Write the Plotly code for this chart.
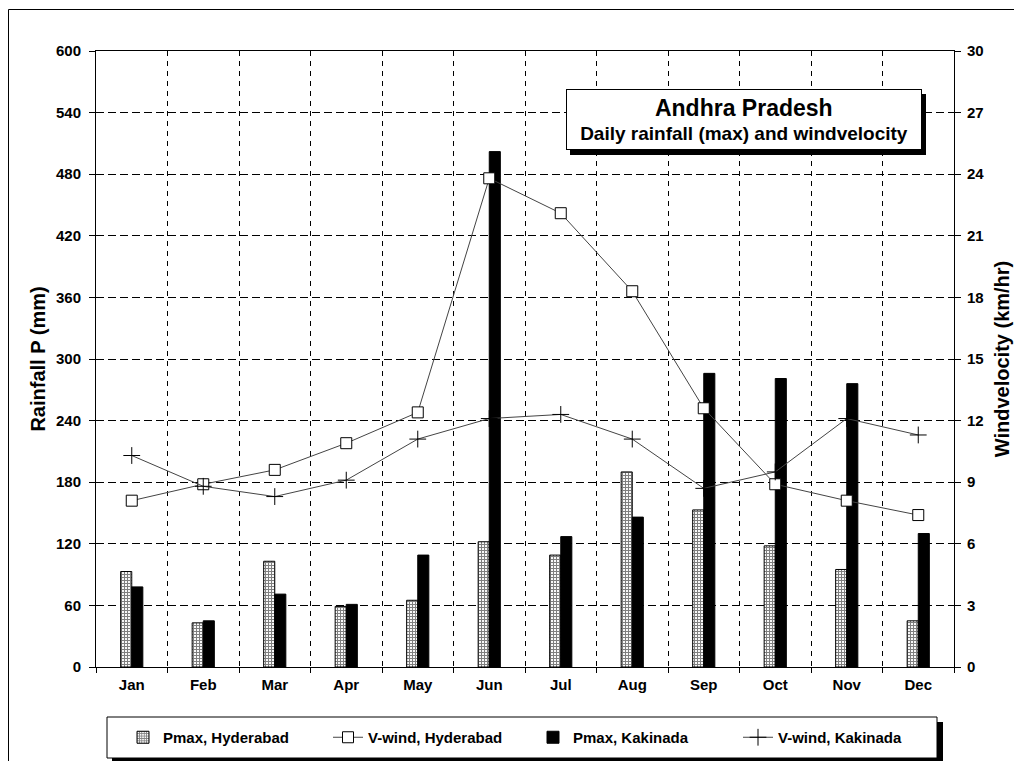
import plotly.graph_objects as go

MONTHS = ['Jan', 'Feb', 'Mar', 'Apr', 'May', 'Jun', 'Jul', 'Aug', 'Sep', 'Oct', 'Nov', 'Dec']
PMAX_HYDERABAD = [93, 43, 103, 59, 65, 122, 109, 190, 153, 118, 95, 45]
PMAX_KAKINADA = [78, 45, 71, 61, 109, 502, 127, 146, 286, 281, 276, 130]
WIND_HYDERABAD = [8.1, 8.9, 9.6, 10.9, 12.4, 23.8, 22.1, 18.3, 12.6, 8.9, 8.1, 7.4]
WIND_KAKINADA = [10.3, 8.8, 8.3, 9.1, 11.1, 12.1, 12.3, 11.1, 8.7, 9.5, 12.1, 11.3]

RAIN_TICKS = list(range(0, 601, 60))
WIND_TICKS = list(range(0, 31, 3))

FONT = 'Liberation Sans'

# page offset from the default body margin of the html page
OFF = 8
FIG_W, FIG_H = 1022 - OFF, 769 - 2 * OFF

# plot area in page pixels (used to place boxes drawn in paper coords)
L, R, T, B = 96, 954, 51, 667
W, H = R - L, B - T


def px(x):
    return (x - L) / W


def py(y):
    return (B - y) / H


fig = go.Figure()

fig.add_trace(go.Bar(
    x=MONTHS, y=PMAX_HYDERABAD, name='Pmax, Hyderabad',
    marker=dict(color='white', line=dict(color='black', width=1),
                pattern=dict(shape='+', fgcolor='black', bgcolor='white', size=3, solidity=0.6)),
))
fig.add_trace(go.Scatter(
    x=MONTHS, y=WIND_HYDERABAD, name='V-wind, Hyderabad', yaxis='y2',
    mode='lines+markers', line=dict(color='#444444', width=1),
    marker=dict(symbol='square', size=11, color='white', line=dict(color='black', width=1)),
))
fig.add_trace(go.Bar(
    x=MONTHS, y=PMAX_KAKINADA, name='Pmax, Kakinada',
    marker=dict(color='black', line=dict(color='black', width=1)),
))
fig.add_trace(go.Scatter(
    x=MONTHS, y=WIND_KAKINADA, name='V-wind, Kakinada', yaxis='y2',
    mode='lines+markers', line=dict(color='#444444', width=1),
    marker=dict(symbol='cross-thin', size=12, color='black', line=dict(color='black', width=1)),
))

tick_font = dict(family=FONT, size=15, color='black', weight='bold')
title_font = dict(family=FONT, size=20, color='black', weight='bold')

fig.update_layout(
    width=FIG_W, height=FIG_H,
    margin=dict(l=L - OFF, r=FIG_W - (R - OFF), t=T - OFF, b=FIG_H - (B - OFF)),
    paper_bgcolor='white', plot_bgcolor='white',
    barmode='group', bargap=0.69, bargroupgap=0,
    font=dict(family=FONT, color='black'),
    xaxis=dict(
        type='category', range=[-0.5, len(MONTHS) - 0.5], tickson='boundaries',
        ticks='outside', ticklen=5, tickcolor='black', tickfont=tick_font, ticklabelstandoff=4,
        showgrid=True, gridcolor='black', gridwidth=1, griddash='5px,5px',
        showline=True, linecolor='black', linewidth=1, mirror=True,
    ),
    yaxis=dict(
        range=[0, 600], tickvals=RAIN_TICKS, ticks='outside', ticklen=6, tickcolor='black',
        tickfont=tick_font, ticklabelstandoff=5,
        showgrid=True, gridcolor='black', gridwidth=1, griddash='8px,4px',
        showline=True, linecolor='black', linewidth=1, zeroline=False,
        title=dict(text='Rainfall P (mm)', font=title_font, standoff=4),
    ),
    yaxis2=dict(
        range=[0, 30], tickvals=WIND_TICKS, overlaying='y', side='right',
        ticks='outside', ticklen=6, tickcolor='black', tickfont=tick_font, ticklabelstandoff=3,
        showgrid=False, showline=True, linecolor='black', linewidth=1, zeroline=False,
        title=dict(text='Windvelocity (km/hr)', font=title_font, standoff=11),
    ),
    legend=dict(
        orientation='h', xref='container', yref='container',
        x=(123 - OFF) / FIG_W, y=(FIG_H - (737.5 - OFF)) / FIG_H,
        xanchor='left', yanchor='middle',
        bgcolor='rgba(0,0,0,0)', borderwidth=0,
        font=dict(family=FONT, size=15, color='black', weight='bold'),
        entrywidth=160, traceorder='normal',
    ),
    showlegend=True,
)

# title box with drop shadow
fig.add_shape(type='rect', xref='paper', yref='paper',
              x0=px(570), x1=px(926), y0=py(155), y1=py(94),
              fillcolor='black', line=dict(width=0), layer='above')
fig.add_annotation(
    xref='paper', yref='paper', x=px(743.5), y=py(119.5), xanchor='center', yanchor='middle',
    text='<span style="font-size:23px">Andhra Pradesh</span><br>Daily rainfall (max) and windvelocity',
    showarrow=False, width=354, height=59, align='center', valign='middle',
    bgcolor='white', bordercolor='black', borderwidth=1, borderpad=0,
    font=dict(family=FONT, size=19, color='black', weight='bold'),
)

# legend box with drop shadow
fig.add_shape(type='rect', xref='paper', yref='paper',
              x0=px(112), x1=px(943), y0=py(763), y1=py(722),
              fillcolor='black', line=dict(width=0), layer='below')
fig.add_shape(type='rect', xref='paper', yref='paper',
              x0=px(107), x1=px(937), y0=py(758), y1=py(717),
              fillcolor='white', line=dict(color='black', width=1), layer='below')

# outer frame
fig.add_shape(type='rect', xref='paper', yref='paper',
              x0=px(8.5), x1=px(1060), y0=py(800), y1=py(9.5),
              line=dict(color='black', width=1), fillcolor='rgba(0,0,0,0)', layer='below')

fig.write_html('out.html')
